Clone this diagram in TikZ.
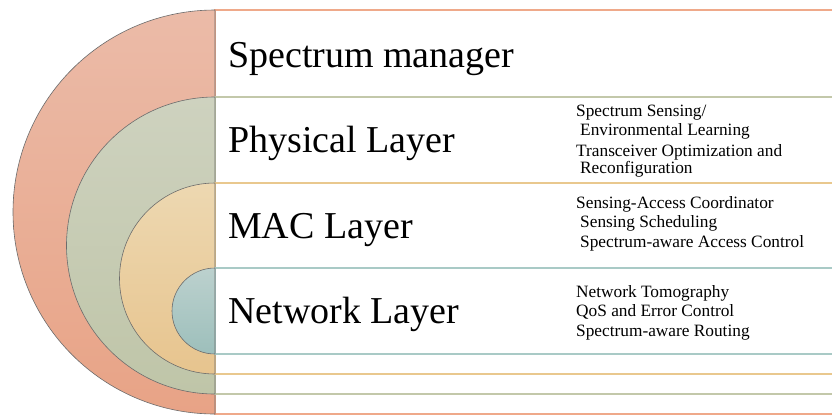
\documentclass[tikz,border=0pt]{standalone}
\usepackage{fontspec}
\setmainfont{Liberation Serif}
\begin{document}
\begin{tikzpicture}[x=1pt,y=-1pt,
  band/.style={fill=white,line width=1.1pt},
  disk/.style={draw=gray!85!black,line width=0.6pt,shading=axis,shading angle=0},
  title/.style={anchor=base west,inner sep=0pt,font=\fontsize{38}{40}\selectfont},
  item/.style={anchor=base west,inner sep=0pt,font=\fontsize{17.3}{19.6}\selectfont}]
\definecolor{salmonline}{HTML}{EFA98A}
\definecolor{greenline}{HTML}{C3C8AA}
\definecolor{tanline}{HTML}{E9C88E}
\definecolor{tealline}{HTML}{A9CAC6}
\useasboundingbox (0,0) rectangle (832,416);
\clip (0,0) rectangle (832,416);
\fill[white] (0,0) rectangle (832,416);
% spectrum manager
\draw[band,draw=salmonline] (215,10) rectangle (860,414);
\path[disk,top color={rgb,255:red,235;green,187;blue,168},bottom color={rgb,255:red,232;green,163;blue,134}]
  (215,10) arc[start angle=-90,end angle=-270,radius=202] -- cycle;
% physical layer
\draw[band,draw=greenline] (215,97) rectangle (860,394);
\path[disk,top color={rgb,255:red,206;green,210;blue,191},bottom color={rgb,255:red,191;green,197;blue,168}]
  (215,97) arc[start angle=-90,end angle=-270,radius=148.5] -- cycle;
% MAC layer
\draw[band,draw=tanline] (215,183) rectangle (860,374);
\path[disk,top color={rgb,255:red,237;green,216;blue,177},bottom color={rgb,255:red,231;green,196;blue,142}]
  (215,183) arc[start angle=-90,end angle=-270,radius=95.5] -- cycle;
% network layer
\draw[band,draw=tealline] (215,268) rectangle (860,354);
\path[disk,top color={rgb,255:red,188;green,209;blue,206},bottom color={rgb,255:red,157;green,191;blue,187}]
  (215,268) arc[start angle=-90,end angle=-270,radius=43] -- cycle;
% layer titles
\node[title] (sm)  at (228,67)  {Spectrum manager};
\node[title] (phy) at (228,152) {Physical Layer};
\node[title] (mac) at (228,238) {MAC Layer};
\node[title] (net) at (228,323) {Network Layer};
% functions of each layer
\node[item] (phy1) at (576,116) {Spectrum Sensing/};
\node[item] (phy2) at (580,135) {Environmental Learning};
\node[item] (phy3) at (576,156) {Transceiver Optimization and};
\node[item] (phy4) at (580,173) {Reconfiguration};
\node[item] (mac1) at (576,208) {Sensing-Access Coordinator};
\node[item] (mac2) at (580,227) {Sensing Scheduling};
\node[item] (mac3) at (580,247) {Spectrum-aware Access Control};
\node[item] (net1) at (576,297) {Network Tomography};
\node[item] (net2) at (576,316) {QoS and Error Control};
\node[item] (net3) at (576,336) {Spectrum-aware Routing};
\end{tikzpicture}
\end{document}
